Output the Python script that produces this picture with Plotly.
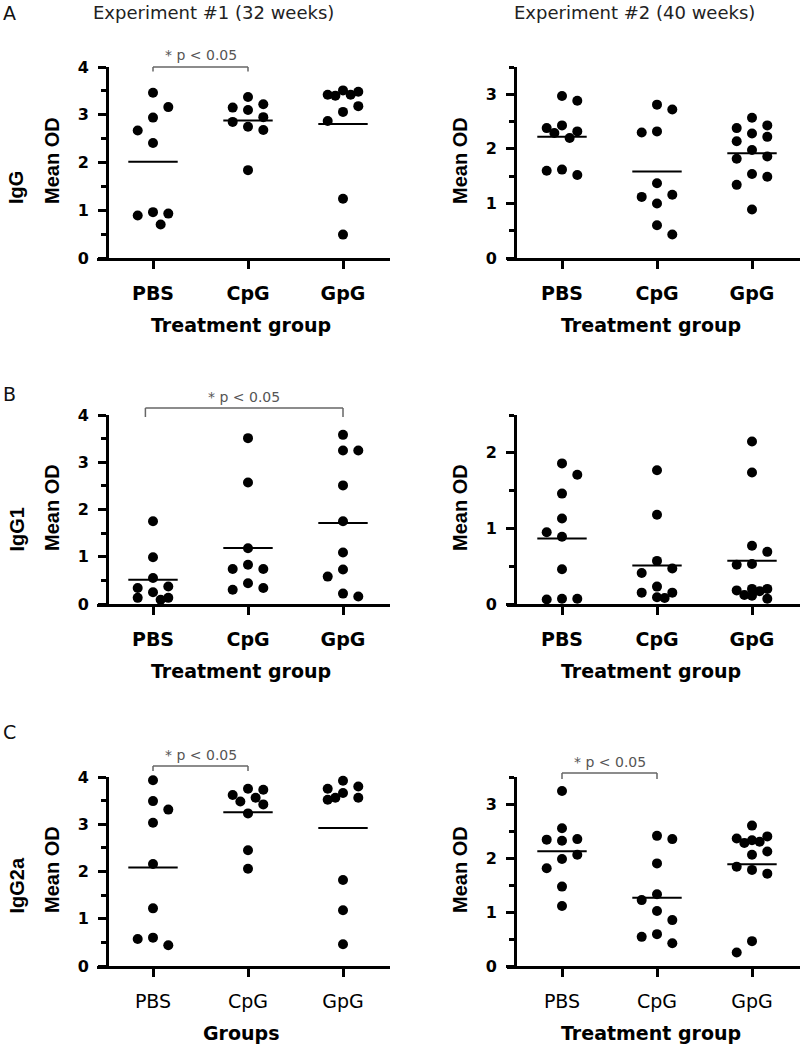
import numpy as np
import plotly.graph_objects as go

# ---------------- data ----------------
groups = ["PBS", "CpG", "GpG"]

igg_exp1_pbs = [3.46, 3.16, 2.94, 2.67, 2.41, 0.96, 0.93, 0.89, 0.70]
igg_exp1_cpg = [3.37, 3.22, 3.15, 3.10, 2.95, 2.85, 2.75, 2.68, 1.84]
igg_exp1_gpg = [3.51, 3.48, 3.42, 3.42, 3.40, 3.18, 3.06, 2.87, 1.24, 0.49]

igg_exp2_pbs = [2.97, 2.88, 2.43, 2.38, 2.32, 2.29, 2.20, 1.62, 1.60, 1.52]
igg_exp2_cpg = [2.81, 2.72, 2.32, 2.30, 1.37, 1.16, 1.12, 1.00, 0.60, 0.43]
igg_exp2_gpg = [2.57, 2.43, 2.38, 2.28, 2.22, 2.14, 1.98, 1.86, 1.82, 1.54, 1.49, 1.34, 0.89]

igg1_exp1_pbs = [1.75, 0.99, 0.55, 0.37, 0.34, 0.25, 0.13, 0.13, 0.09]
igg1_exp1_cpg = [3.51, 2.57, 1.18, 0.83, 0.74, 0.74, 0.44, 0.34, 0.30]
igg1_exp1_gpg = [3.58, 3.25, 3.25, 2.51, 1.75, 1.09, 0.73, 0.58, 0.22, 0.16]

igg1_exp2_pbs = [1.86, 1.71, 1.46, 1.13, 0.95, 0.89, 0.46, 0.07, 0.07, 0.06]
igg1_exp2_cpg = [1.77, 1.18, 0.57, 0.47, 0.41, 0.23, 0.15, 0.15, 0.09, 0.08]
igg1_exp2_gpg = [2.15, 1.74, 0.77, 0.69, 0.53, 0.52, 0.20, 0.20, 0.18, 0.17, 0.12, 0.11, 0.07]

igg2a_exp1_pbs = [3.93, 3.49, 3.31, 3.03, 2.16, 1.22, 0.60, 0.57, 0.44]
igg2a_exp1_cpg = [3.75, 3.73, 3.62, 3.56, 3.48, 3.42, 3.23, 2.45, 2.06]
igg2a_exp1_gpg = [3.92, 3.80, 3.75, 3.66, 3.56, 3.56, 3.52, 1.82, 1.18, 0.46]

igg2a_exp2_pbs = [3.24, 2.55, 2.35, 2.34, 2.32, 2.06, 1.98, 1.81, 1.47, 1.11]
igg2a_exp2_cpg = [2.41, 2.35, 1.90, 1.33, 1.22, 1.02, 0.85, 0.59, 0.54, 0.42]
igg2a_exp2_gpg = [2.60, 2.40, 2.36, 2.33, 2.30, 2.28, 2.12, 2.06, 1.84, 1.78, 1.71, 0.46, 0.25]

y_max = [4, 3.5, 4, 2.5, 4, 3.5]
isotypes = ["IgG", "IgG1", "IgG2a"]
experiments = ["Experiment #1 (32 weeks)", "Experiment #2 (40 weeks)"]
panel_letters = ["A", "B", "C"]
sig_label = "* p < 0.05"

# ---------------- layout constants (pixels) ----------------
W, H = 802, 1050
ROWS = [(258, 67), (604, 415), (966, 777)]          # (y of zero, y of top)
COLS = [dict(yline=107, x0=97, x1=390, cat0=153),
        dict(yline=515, x0=507, x1=800, cat0=562)]
STEP = 95.0          # px between categories
DOT = 10
BOLD_H = "DejaVu Sans"
BOLD_V = "Liberation Sans"

def pxx(p):
    return p / W

def pxy(p):
    return 1 - p / H


def swarm(vals, sy, diam=15.0, colstep=15.3):
    """Greedy three-column scatter spread: returns x offsets in category units."""
    order = sorted(range(len(vals)), key=lambda i: -vals[i])
    placed = []
    res = [0.0] * len(vals)
    side = 1

    def mind(x, y):
        if not placed:
            return 1e9
        return min(((x - a) ** 2 + (y - b) ** 2) ** 0.5 for a, b in placed)

    for i in order:
        y = vals[i] * sy
        chosen = None
        for c in (0, side, -side):
            if mind(c * colstep, y) >= diam:
                chosen = c
                break
        if chosen is None:
            cands = (0, 1, -1, 0.5, -0.5)
            chosen = max(cands, key=lambda c: mind(c * colstep, y))
        if chosen > 0:
            side = -1
        elif chosen < 0:
            side = 1
        x = chosen * colstep
        placed.append((x, y))
        res[i] = x / STEP
    return res


panels = [
    dict(r=0, c=0, vals=[igg_exp1_pbs, igg_exp1_cpg, igg_exp1_gpg], xt="Treatment group", bold=True,
         sig=dict(a=0, b=1, yb=67, tick=4.5, ty=55)),
    dict(r=0, c=1, vals=[igg_exp2_pbs, igg_exp2_cpg, igg_exp2_gpg], xt="Treatment group", bold=True, sig=None),
    dict(r=1, c=0, vals=[igg1_exp1_pbs, igg1_exp1_cpg, igg1_exp1_gpg], xt="Treatment group", bold=True,
         sig=dict(a=-0.08, b=2, yb=408, tick=9, ty=397)),
    dict(r=1, c=1, vals=[igg1_exp2_pbs, igg1_exp2_cpg, igg1_exp2_gpg], xt="Treatment group", bold=True, sig=None),
    dict(r=2, c=0, vals=[igg2a_exp1_pbs, igg2a_exp1_cpg, igg2a_exp1_gpg], xt="Groups", bold=False,
         sig=dict(a=0, b=1, yb=766, tick=5, ty=755)),
    dict(r=2, c=1, vals=[igg2a_exp2_pbs, igg2a_exp2_cpg, igg2a_exp2_gpg], xt="Treatment group", bold=False,
         sig=dict(a=0, b=1, yb=773, tick=6, ty=762)),
]

fig = go.Figure()
annotations = []
shapes = []
layout = {}

for k, p in enumerate(panels, start=1):
    y0, ytop = ROWS[p["r"]]
    col = COLS[p["c"]]
    ymax = y_max[k - 1]
    r0 = (col["x0"] - col["cat0"]) / STEP
    r1 = (col["x1"] - col["cat0"]) / STEP
    sfx = "" if k == 1 else str(k)
    xref, yref = "x" + sfx, "y" + sfx
    sy = (y0 - ytop) / ymax

    layout["xaxis" + sfx] = dict(
        domain=[pxx(col["x0"]), pxx(col["x1"])], range=[r0, r1], anchor=yref,
        showline=True, linewidth=3, linecolor="black", showgrid=False, zeroline=False,
        ticks="outside", ticklen=8, tickwidth=3, tickcolor="black",
        tickvals=[0, 1, 2], ticktext=groups, ticklabelstandoff=8,
        tickfont=dict(family=BOLD_H, size=19, color="black",
                      weight="bold" if p["bold"] else "normal"),
        fixedrange=True, automargin=False,
    )
    layout["yaxis" + sfx] = dict(
        domain=[pxy(y0), pxy(ytop)], range=[0, ymax], anchor="free", position=pxx(col["yline"]),
        showline=True, linewidth=3, linecolor="black", showgrid=False, zeroline=False,
        ticks="outside", ticklen=8, tickwidth=3, tickcolor="black", dtick=1, tick0=0,
        minor=dict(dtick=0.5, tick0=0, ticks="outside", ticklen=5, tickwidth=3, tickcolor="black", showgrid=False),
        tickfont=dict(family=BOLD_H, size=16, color="black", weight="bold"),
        ticklabelstandoff=6, fixedrange=True, automargin=False,
    )

    for gi, vals in enumerate(p["vals"]):
        offs = swarm(vals, sy)
        fig.add_trace(go.Scatter(
            x=[gi + o for o in offs], y=vals, mode="markers", xaxis=xref, yaxis=yref,
            marker=dict(size=DOT, color="black", line=dict(width=0)),
            cliponaxis=False, showlegend=False, hoverinfo="skip"))
        m = float(np.mean(vals))
        fig.add_trace(go.Scatter(
            x=[gi - 0.26, gi + 0.26], y=[m, m], mode="lines", xaxis=xref, yaxis=yref,
            line=dict(color="black", width=2), showlegend=False, hoverinfo="skip"))

    # axis titles
    xc = (col["x0"] + col["x1"]) / 2 - 3
    annotations.append(dict(text=p["xt"], x=pxx(xc), y=pxy(y0 + 67), xref="paper", yref="paper",
                            showarrow=False, xanchor="center", yanchor="middle",
                            font=dict(family=BOLD_H, size=19, color="black", weight="bold")))
    ymid = (y0 + ytop) / 2
    ybot = ymid + 44
    mx = col["yline"] - 55
    annotations.append(dict(text="Mean OD", x=pxx(mx), y=pxy(ybot), xref="paper", yref="paper",
                            showarrow=False, xanchor="center", yanchor="bottom", textangle=-90,
                            font=dict(family=BOLD_V, size=20, color="black", weight="bold")))
    if p["c"] == 0:
        annotations.append(dict(text=isotypes[p["r"]], x=pxx(mx - 36), y=pxy(ybot), xref="paper", yref="paper",
                                showarrow=False, xanchor="center", yanchor="bottom", textangle=-90,
                                font=dict(family=BOLD_V, size=20, color="black", weight="bold")))

    # significance brackets
    s = p["sig"]
    if s:
        xa = (s["a"] - r0) / (r1 - r0)
        xb = (s["b"] - r0) / (r1 - r0)
        yb, yt = pxy(s["yb"]), pxy(s["yb"] + s["tick"])
        for (xs0, ys0, xs1, ys1) in [(xa, yb, xb, yb), (xa, yb, xa, yt), (xb, yb, xb, yt)]:
            shapes.append(dict(type="line", xref=xref + " domain", yref="paper",
                               x0=xs0, y0=ys0, x1=xs1, y1=ys1,
                               line=dict(color="#666666", width=1.5)))
        xmid = (s["a"] + s["b"]) / 2
        annotations.append(dict(text=sig_label, x=(xmid - r0) / (r1 - r0), y=pxy(s["ty"]),
                                xref=xref + " domain", yref="paper", showarrow=False,
                                xanchor="center", yanchor="middle",
                                font=dict(family="DejaVu Sans", size=14, color="#555555")))

# experiment titles and panel letters
for ci, t in enumerate(experiments):
    annotations.append(dict(text=t, x=pxx([213, 634][ci]), y=pxy(12), xref="paper", yref="paper",
                            showarrow=False, xanchor="center", yanchor="middle",
                            font=dict(family="DejaVu Sans", size=18, color="#222222")))
for ri, L in enumerate(panel_letters):
    annotations.append(dict(text=L, x=pxx(9), y=pxy([13, 394, 732][ri]), xref="paper", yref="paper",
                            showarrow=False, xanchor="center", yanchor="middle",
                            font=dict(family="DejaVu Sans", size=19, color="#111111")))

fig.update_layout(**layout)
fig.update_layout(width=W, height=H, margin=dict(l=0, r=0, t=0, b=0, autoexpand=False),
                  paper_bgcolor="white", plot_bgcolor="white",
                  annotations=annotations, shapes=shapes, showlegend=False)

fig.write_html("out.html", config=dict(displayModeBar=False),
               post_script="document.body.style.margin='0';document.body.style.padding='0';"
                           "document.documentElement.style.overflow='hidden';")
